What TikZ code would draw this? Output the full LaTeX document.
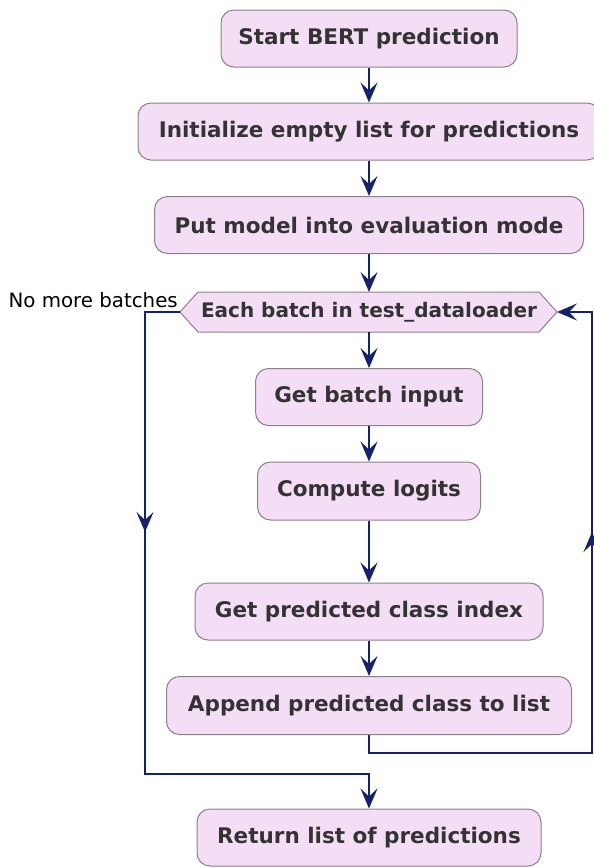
\documentclass[tikz,border=0pt]{standalone}
\usepackage{fontspec}
\setmainfont{DejaVu Sans}
\usetikzlibrary{arrows.meta,decorations.markings}
\definecolor{boxfill}{RGB}{244,222,245}
\definecolor{boxline}{RGB}{140,128,140}
\definecolor{txt}{RGB}{51,51,51}
\definecolor{arrowc}{RGB}{20,34,110}
\tikzset{
  act/.style={draw=boxline, fill=boxfill, rounded corners=13pt, line width=1pt,
    minimum height=57pt, inner sep=0pt, text=txt, font=\fontsize{21.5}{24}\selectfont\bfseries},
  conn/.style={draw=arrowc, line width=1.6pt},
  tip/.style={-{Stealth[length=20pt,width=17pt,inset=8pt]}},
  midtip/.style={postaction={decorate}, decoration={markings,
    mark=at position #1 with {\arrow{Stealth[length=20pt,width=17pt,inset=8pt]}}}},
}
\begin{document}
\begin{tikzpicture}[x=1pt,y=-1pt]
\useasboundingbox (0,0) rectangle (594,868);
\fill[white] (0,0) rectangle (594,868);
\node[act, minimum width=296pt] (start) at (369,38.5) {Start BERT prediction};
\node[act, minimum width=462pt] (init) at (369,131.5) {Initialize empty list for predictions};
\node[act, minimum width=429pt] (eval) at (369,225) {Put model into evaluation mode};
% hexagon
\coordinate (hexL) at (180,312);
\coordinate (hexR) at (557,312);
\coordinate (hexT) at (369,292);
\coordinate (hexB) at (369,332);
\draw[draw=boxline, fill=boxfill, line width=1pt] (hexL) -- (198,292) -- (539,292) -- (hexR) -- (539,332) -- (198,332) -- cycle;
\node[text=txt, font=\fontsize{20}{23}\selectfont\bfseries] (hex) at (369,312.5) {Each batch in test\_dataloader};
\node[act, minimum width=227pt] (batch) at (369,397) {Get batch input};
\node[act, minimum width=223pt, minimum height=58pt] (logits) at (369,491) {Compute logits};
\node[act, minimum width=348pt] (pred) at (369,611.5) {Get predicted class index};
\node[act, minimum width=405pt, minimum height=58pt] (append) at (369,705.5) {Append predicted class to list};
\node[act, minimum width=344pt] (ret) at (369,837.5) {Return list of predictions};
\node[anchor=east, text=black, font=\fontsize{19.8}{22}\selectfont, inner sep=0pt] (nomore) at (178,300) {No more batches};
% connectors
\draw[conn, tip] (start) -- (init);
\draw[conn, tip] (init) -- (eval);
\draw[conn, tip] (eval) -- (hexT);
\draw[conn, tip] (hexB) -- (batch);
\draw[conn, tip] (batch) -- (logits);
\draw[conn, tip] (logits) -- (pred);
\draw[conn, tip] (pred) -- (append);
\coordinate (rb1) at (369,753);
\coordinate (rb2) at (592,753);
\coordinate (rb3) at (592,312);
\draw[conn, tip, midtip=462pt] (append.south) -- (rb1) -- (rb2) -- (rb3) -- (hexR);
\coordinate (lb1) at (145,312);
\coordinate (lb2) at (145,774);
\coordinate (lb3) at (369,774);
\draw[conn, tip, midtip=255pt] (hexL) -- (lb1) -- (lb2) -- (lb3) -- (ret.north);
\end{tikzpicture}
\end{document}
